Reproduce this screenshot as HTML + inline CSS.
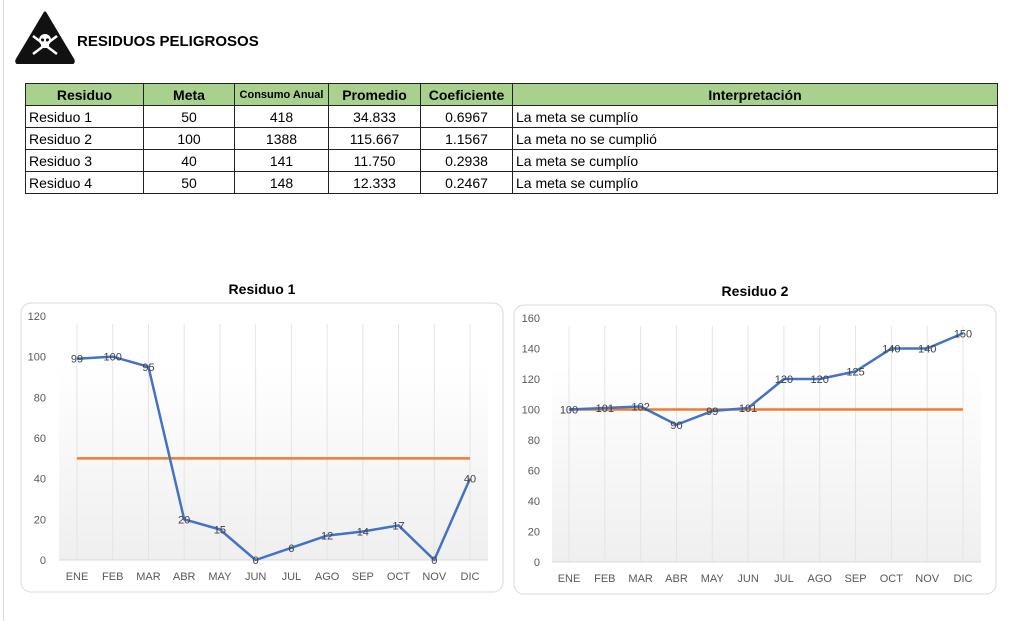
<!DOCTYPE html>
<html><head><meta charset="utf-8">
<style>
body{margin:0;width:1024px;height:621px;background:#fff;font-family:"Liberation Sans",sans-serif;position:relative;overflow:hidden}
.abs{position:absolute}
table{border-collapse:collapse;position:absolute;left:25px;top:83px;table-layout:fixed;font-size:14px}
td,th{border:1px solid #222;height:21px;padding:0 3px;white-space:nowrap;overflow:hidden}
th{background:#a9d18e;font-weight:bold;font-size:14px}
td.c{text-align:center}
</style></head><body>
<div class="abs" style="left:3px;top:0;width:1px;height:621px;background:#ddd"></div>
<svg class="abs" style="left:14px;top:10px" width="62" height="54">
<path d="M31 3 L59 50 Q60 53 57 53 L5 53 Q2 53 3 50 Z" fill="#111" stroke="#111" stroke-width="3" stroke-linejoin="round"/>
<circle cx="31" cy="30" r="6" fill="#fff"/><rect x="27" y="33" width="8" height="5" fill="#fff"/>
<circle cx="28.5" cy="30" r="1.6" fill="#111"/><circle cx="33.5" cy="30" r="1.6" fill="#111"/>
<path d="M19 26 L43 44 M43 26 L19 44" stroke="#fff" stroke-width="2.5"/>
</svg>
<div class="abs" style="left:77px;top:33px;font-weight:bold;font-size:15px">RESIDUOS PELIGROSOS</div>
<table>
<colgroup><col style="width:118px"><col style="width:91px"><col style="width:94px"><col style="width:92px"><col style="width:92px"><col style="width:485px"></colgroup>
<tr><th>Residuo</th><th>Meta</th><th style="font-size:11px">Consumo Anual</th><th>Promedio</th><th>Coeficiente</th><th>Interpretación</th></tr>
<tr><td>Residuo 1</td><td class="c">50</td><td class="c">418</td><td class="c">34.833</td><td class="c">0.6967</td><td>La meta se cumplío</td></tr>
<tr><td>Residuo 2</td><td class="c">100</td><td class="c">1388</td><td class="c">115.667</td><td class="c">1.1567</td><td>La meta no se cumplió</td></tr>
<tr><td>Residuo 3</td><td class="c">40</td><td class="c">141</td><td class="c">11.750</td><td class="c">0.2938</td><td>La meta se cumplío</td></tr>
<tr><td>Residuo 4</td><td class="c">50</td><td class="c">148</td><td class="c">12.333</td><td class="c">0.2467</td><td>La meta se cumplío</td></tr>
</table>
<svg id="svg" class="abs" style="left:0;top:0" width="1024" height="621">
<defs><linearGradient id="g" x1="0" y1="0" x2="0" y2="1"><stop offset="0" stop-color="#fff"/><stop offset="1" stop-color="#efefef"/></linearGradient></defs>
</svg>
<script>
const months=["ENE","FEB","MAR","ABR","MAY","JUN","JUL","AGO","SEP","OCT","NOV","DIC"];
const r1Values=[99,100,95,20,15,0,6,12,14,17,0,40];
const r1Meta=50;
const r1Ticks=[0,20,40,60,80,100,120];
const r2Values=[100,101,102,90,99,101,120,120,125,140,140,150];
const r2Meta=100;
const r2Ticks=[0,20,40,60,80,100,120,140,160];
const NS="http://www.w3.org/2000/svg",svg=document.getElementById('svg');
function mk(t,a,p){const e=document.createElementNS(NS,t);for(const k in a)e.setAttribute(k,a[k]);(p||svg).appendChild(e);return e;}
function chart(o){
 const g=mk('g',{});
 
 
 const box=mk('rect',{x:o.bx,y:o.by,width:o.bw,height:o.bh,rx:10,fill:'#fff',stroke:'#d9d9d9'},g);
 
 const t=mk('text',{x:o.bx+o.bw/2,y:o.by-9,'text-anchor':'middle','font-size':14,'font-weight':'bold',fill:'#000'},g);t.textContent=o.title;
 
 const max=o.ticks[o.ticks.length-1];
 const ys=v=>o.y0-(v/max)*(o.y0-o.yTop);
 const step=(o.xLast-o.xFirst)/(months.length-1);
 const xs=i=>o.xFirst+i*step;
 mk('rect',{x:o.pl,y:o.y0-(o.y0-o.yTop)*0.8,width:o.pr-o.pl,height:(o.y0-o.yTop)*0.8,fill:'url(#g)'},g);
 months.forEach((m,i)=>{
  const gl=mk('line',{x1:xs(i),x2:xs(i),y1:o.yTop+8,y2:o.y0,stroke:'#e4e4e4'},g);
  
  const l=mk('text',{x:xs(i),y:o.y0+20,'text-anchor':'middle','font-size':11,fill:'#595959'},g);l.textContent=m;
  
 });
 mk('line',{x1:o.pl,x2:o.pr,y1:o.y0,y2:o.y0,stroke:'#d9d9d9'},g);
 o.ticks.forEach(v=>{const l=mk('text',{x:o.yl,y:ys(v)+4,'text-anchor':'end','font-size':11,fill:'#595959'},g);l.textContent=v;
  });
 const meta=mk('line',{x1:xs(0),x2:xs(11),y1:ys(o.meta),y2:ys(o.meta),stroke:'#ed7d31','stroke-width':2.5},g);
 
 const pts=o.vals.map((v,i)=>xs(i)+','+ys(v)).join(' ');
 const pl=mk('polyline',{points:pts,fill:'none',stroke:'#4472c4','stroke-width':2.5,'stroke-linejoin':'round'},g);
 
 o.vals.forEach((v,i)=>{const l=mk('text',{x:xs(i),y:ys(v)+4,'text-anchor':'middle','font-size':11,fill:'#404040'},g);l.textContent=v;
  });
}
chart({name:'residuo-1-chart',title:'Residuo 1',bx:21,by:303,bw:482,bh:289,pl:59,pr:488,y0:560,yTop:316,xFirst:77,xLast:470,yl:46,ticks:r1Ticks,vals:r1Values,meta:r1Meta});
chart({name:'residuo-2-chart',title:'Residuo 2',bx:514,by:305,bw:482,bh:289,pl:552,pr:981,y0:562,yTop:318,xFirst:569,xLast:963,yl:540,ticks:r2Ticks,vals:r2Values,meta:r2Meta});
</script>
</body></html>
